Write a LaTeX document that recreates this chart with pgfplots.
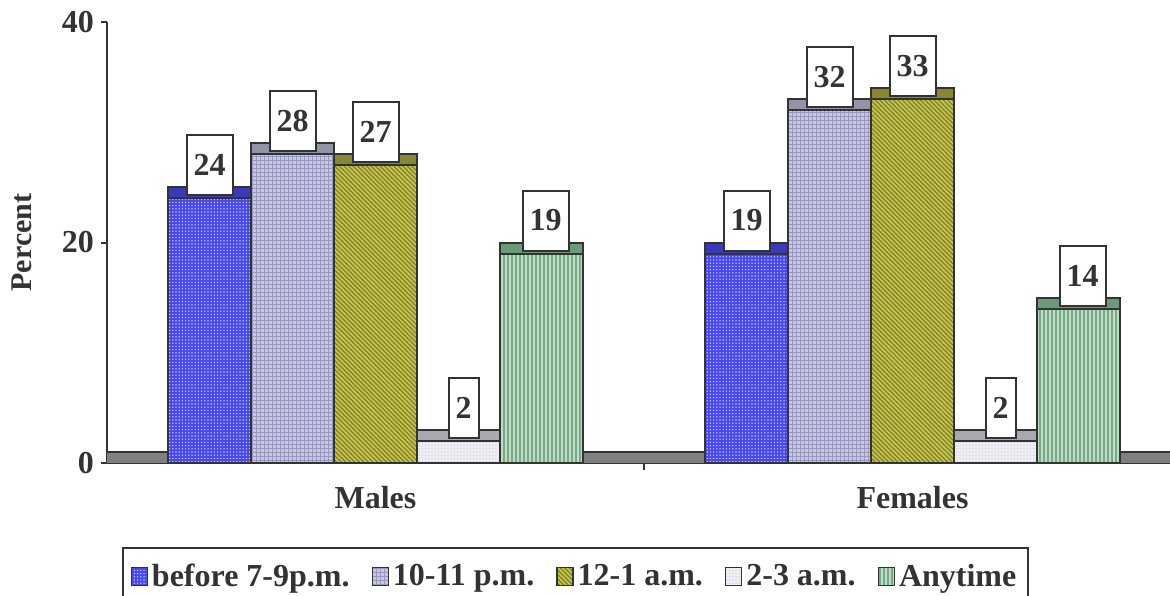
\documentclass[border=0pt]{standalone}
\usepackage{fontspec}
\setmainfont{Liberation Serif}
\usepackage{pgfplots}
\usepackage{pgfplotstable}
\pgfplotsset{compat=1.18}
\usetikzlibrary{patterns.meta}

\definecolor{ink}{HTML}{333333}
\definecolor{eveF}{HTML}{4646F2}
\definecolor{eveP}{HTML}{C8C8FF}
\definecolor{eveT}{HTML}{3A3AB8}
\definecolor{tenF}{HTML}{C6C6E2}
\definecolor{tenP}{HTML}{9898BE}
\definecolor{tenT}{HTML}{9494A8}
\definecolor{midF}{HTML}{C4C456}
\definecolor{midP}{HTML}{80801C}
\definecolor{midT}{HTML}{88882E}
\definecolor{lateF}{HTML}{EEEEF4}
\definecolor{lateP}{HTML}{CFCFDC}
\definecolor{lateT}{HTML}{A8A8B0}
\definecolor{anyF}{HTML}{BCDEC4}
\definecolor{anyP}{HTML}{78A886}
\definecolor{anyT}{HTML}{6A9A78}
\definecolor{floorgray}{HTML}{808080}

% x: 0 = Males, 1 = Females; v = percent
\pgfplotstableread{
x v
0 24
1 19
}\tblEve
\pgfplotstableread{
x v
0 28
1 32
}\tblTen
\pgfplotstableread{
x v
0 27
1 33
}\tblMid
\pgfplotstableread{
x v
0 2
1 2
}\tblLate
\pgfplotstableread{
x v
0 19
1 14
}\tblAny

\newcommand\tickfont{\fontsize{16bp}{18bp}\selectfont\bfseries}
\newcommand\valfont{\fontsize{16bp}{18bp}\selectfont\bfseries}

% one category is 268.5bp wide; one bar is 0.1546 of it (41.5bp)
\pgfplotsset{
  face/.style={ybar, draw=ink, line width=1bp},
  top/.style={face, forget plot},
  front/.style={face,
    legend image code/.code={\draw[##1, line width=0.7bp] (0bp,-4.5bp) rectangle (8bp,4.5bp);},
    nodes near coords,
    every node near coord/.style={anchor=south, draw=ink, fill=white, text=ink,
      line width=1bp, font=\valfont, minimum height=30bp, inner xsep=3.5bp,
      yshift=1bp, xshift=#1}},
  texture/.style 2 args={postaction={pattern={#1}, pattern color=#2}},
}

\begin{document}
\begin{tikzpicture}
\begin{axis}[
  scale only axis, width=531.5bp, height=220.5bp,
  xmin=-0.5, xmax=1.4795, ymin=0, ymax=40,
  /pgf/number format/assume math mode=true,
  axis lines*=left,
  axis line style={ink, line width=1bp},
  ytick={0,20,40},
  tick align=outside,
  major tick length=3bp,
  tick style={ink, line width=1bp},
  xtick={0,1}, xticklabels={Males,Females},
  x tick style={draw=none},
  minor xtick={0.5},
  minor x tick style={draw=ink, line width=1bp},
  minor tick length=3.5bp,
  ticklabel style={font=\tickfont, text=ink},
  xticklabel style={yshift=-5bp},
  ylabel={Percent},
  ylabel style={at={(axis description cs:-0.08,0.5)}, anchor=center,
    font=\fontsize{15bp}{17bp}\selectfont\bfseries, text=ink},
  bar width=0.1546,
  legend style={at={(axis description cs:0.4407,-0.1905)}, anchor=north, draw=ink,
    line width=1bp, font=\fontsize{16bp}{18bp}\selectfont\bfseries, text=ink, legend columns=-1,
    inner xsep=4bp, inner ysep=6bp,
    /tikz/every even column/.append style={column sep=9bp}},
  legend cell align=left,
]
% floor of the chart
\fill[floorgray] (axis cs:-0.5,0) rectangle (axis cs:1.4795,1);
\draw[ink, line width=1bp] (axis cs:-0.5,1) -- (axis cs:1.4795,1);

\addplot[top, bar shift=-0.3092, fill=eveT] table[x=x, y expr=\thisrow{v}+1]{\tblEve};
\addplot[front=-83bp, bar shift=-0.3092, fill=eveF,
  texture={Dots[distance=1.6bp, radius=0.4bp]}{eveP}] table[x=x, y=v]{\tblEve};
\addlegendentry{before 7-9p.m.}

\addplot[top, bar shift=-0.1546, fill=tenT] table[x=x, y expr=\thisrow{v}+1]{\tblTen};
\addplot[front=-41.5bp, bar shift=-0.1546, fill=tenF,
  texture={Hatch[angle=0, distance=2bp, line width=0.45bp]}{tenP}] table[x=x, y=v]{\tblTen};
\addlegendentry{10-11 p.m.}

\addplot[top, bar shift=0, fill=midT] table[x=x, y expr=\thisrow{v}+1]{\tblMid};
\addplot[front=0bp, bar shift=0, fill=midF,
  texture={Lines[angle=-45, distance=1.6bp, line width=0.6bp]}{midP}] table[x=x, y=v]{\tblMid};
\addlegendentry{12-1 a.m.}

\addplot[top, bar shift=0.1546, fill=lateT] table[x=x, y expr=\thisrow{v}+1]{\tblLate};
\addplot[front=44bp, bar shift=0.1546, fill=lateF,
  texture={Dots[distance=1.6bp, radius=0.35bp]}{lateP}] table[x=x, y=v]{\tblLate};
\addlegendentry{2-3 a.m.}

\addplot[top, bar shift=0.3092, fill=anyT] table[x=x, y expr=\thisrow{v}+1]{\tblAny};
\addplot[front=85bp, bar shift=0.3092, fill=anyF,
  texture={Lines[angle=90, distance=2bp, line width=0.6bp]}{anyP}] table[x=x, y=v]{\tblAny};
\addlegendentry{Anytime}
\end{axis}
\pgfresetboundingbox
\useasboundingbox (-53.5bp,-66.5bp) rectangle (531.5bp,231.5bp);
\end{tikzpicture}
\end{document}
